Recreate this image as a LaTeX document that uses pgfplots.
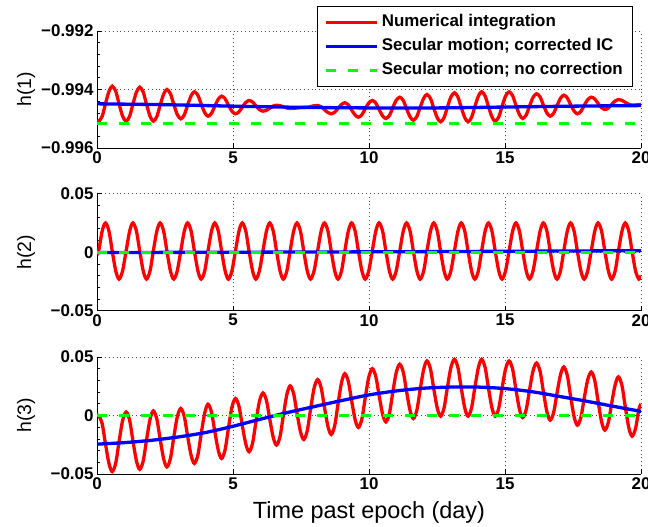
\documentclass[border=0pt]{standalone}
\usepackage{fontspec}
\setmainfont{Liberation Sans}
\usepackage{pgfplots}
\usepackage{pgfplotstable}
\pgfplotsset{compat=1.18}
\definecolor{mred}{RGB}{255,0,0}
\definecolor{mblue}{RGB}{0,0,255}
\definecolor{mgreen}{RGB}{0,255,0}

\pgfplotstableread{
t r1 r2 r3
0.00 -0.995090 -0.002 0.0000
0.06 -0.995094 0.001 0.0000
0.19 -0.994917 0.018 -0.0070
0.31 -0.994491 0.025 -0.0240
0.44 -0.994064 0.018 -0.0410
0.56 -0.993887 0.001 -0.0480
0.69 -0.994062 -0.016 -0.0405
0.81 -0.994486 -0.023 -0.0225
0.94 -0.994909 -0.016 -0.0045
1.07 -0.995084 0.001 0.0030
1.20 -0.994914 0.018 -0.0042
1.32 -0.994503 0.025 -0.0215
1.45 -0.994091 0.018 -0.0388
1.57 -0.993921 0.001 -0.0460
1.70 -0.994091 -0.016 -0.0387
1.82 -0.994503 -0.023 -0.0210
1.95 -0.994914 -0.016 -0.0033
2.07 -0.995084 0.001 0.0040
2.20 -0.994925 0.018 -0.0030
2.32 -0.994542 0.025 -0.0200
2.45 -0.994159 0.018 -0.0370
2.57 -0.994000 0.001 -0.0440
2.70 -0.994147 -0.016 -0.0367
2.82 -0.994501 -0.023 -0.0190
2.95 -0.994855 -0.016 -0.0013
3.08 -0.995002 0.001 0.0060
3.21 -0.994867 0.018 -0.0009
3.33 -0.994541 0.025 -0.0175
3.46 -0.994214 0.018 -0.0341
3.58 -0.994079 0.001 -0.0410
3.71 -0.994201 -0.016 -0.0336
3.83 -0.994496 -0.023 -0.0157
3.96 -0.994791 -0.016 0.0022
4.08 -0.994913 0.001 0.0096
4.21 -0.994813 0.018 0.0028
4.33 -0.994571 0.025 -0.0136
4.46 -0.994329 0.018 -0.0299
4.58 -0.994229 0.001 -0.0367
4.71 -0.994317 -0.016 -0.0292
4.83 -0.994530 -0.023 -0.0111
4.96 -0.994743 -0.016 0.0070
5.09 -0.994831 0.001 0.0145
5.22 -0.994764 0.018 0.0078
5.34 -0.994604 0.025 -0.0083
5.47 -0.994443 0.018 -0.0243
5.59 -0.994376 0.001 -0.0310
5.72 -0.994430 -0.016 -0.0236
5.84 -0.994559 -0.023 -0.0059
5.97 -0.994688 -0.016 0.0119
6.10 -0.994742 0.001 0.0193
6.23 -0.994712 0.018 0.0128
6.35 -0.994640 0.025 -0.0030
6.48 -0.994567 0.018 -0.0188
6.60 -0.994537 0.001 -0.0253
6.73 -0.994554 -0.016 -0.0179
6.85 -0.994594 -0.023 0.0000
6.98 -0.994633 -0.016 0.0179
7.10 -0.994650 0.001 0.0253
7.23 -0.994645 0.018 0.0186
7.35 -0.994633 0.025 0.0024
7.48 -0.994621 0.018 -0.0138
7.60 -0.994616 0.001 -0.0205
7.73 -0.994606 -0.016 -0.0130
7.85 -0.994582 -0.023 0.0051
7.98 -0.994557 -0.016 0.0232
8.11 -0.994547 0.001 0.0307
8.24 -0.994589 0.018 0.0238
8.36 -0.994689 0.025 0.0073
8.49 -0.994789 0.018 -0.0093
8.61 -0.994831 0.001 -0.0162
8.74 -0.994776 -0.016 -0.0086
8.86 -0.994643 -0.023 0.0098
8.99 -0.994510 -0.016 0.0282
9.11 -0.994455 0.001 0.0358
9.24 -0.994527 0.018 0.0291
9.36 -0.994701 0.025 0.0128
9.49 -0.994875 0.018 -0.0035
9.61 -0.994947 0.001 -0.0102
9.74 -0.994863 -0.016 -0.0028
9.86 -0.994662 -0.023 0.0149
9.99 -0.994460 -0.016 0.0326
10.12 -0.994376 0.001 0.0400
10.25 -0.994466 0.018 0.0333
10.37 -0.994684 0.025 0.0173
10.50 -0.994902 0.018 0.0012
10.62 -0.994992 0.001 -0.0055
10.75 -0.994885 -0.016 0.0017
10.87 -0.994628 -0.023 0.0192
11.00 -0.994370 -0.016 0.0366
11.13 -0.994263 0.001 0.0438
11.26 -0.994378 0.018 0.0370
11.38 -0.994657 0.025 0.0206
11.51 -0.994935 0.018 0.0042
11.63 -0.995050 0.001 -0.0026
11.76 -0.994921 -0.016 0.0046
11.88 -0.994611 -0.023 0.0220
12.01 -0.994300 -0.016 0.0394
12.13 -0.994171 0.001 0.0466
12.26 -0.994308 0.018 0.0397
12.38 -0.994638 0.025 0.0230
12.51 -0.994968 0.018 0.0063
12.63 -0.995105 0.001 -0.0006
12.76 -0.994960 -0.016 0.0065
12.88 -0.994609 -0.023 0.0237
13.01 -0.994258 -0.016 0.0409
13.14 -0.994113 0.001 0.0480
13.27 -0.994258 0.018 0.0409
13.39 -0.994609 0.025 0.0237
13.52 -0.994960 0.018 0.0065
13.64 -0.995105 0.001 -0.0006
13.77 -0.994955 -0.016 0.0065
13.89 -0.994592 -0.023 0.0237
14.02 -0.994229 -0.016 0.0409
14.14 -0.994079 0.001 0.0480
14.27 -0.994226 0.018 0.0409
14.39 -0.994582 0.025 0.0237
14.52 -0.994937 0.018 0.0065
14.64 -0.995084 0.001 -0.0006
14.77 -0.994937 -0.016 0.0063
14.89 -0.994582 -0.023 0.0230
15.02 -0.994226 -0.016 0.0397
15.15 -0.994079 0.001 0.0466
15.28 -0.994213 0.018 0.0395
15.40 -0.994536 0.025 0.0225
15.53 -0.994858 0.018 0.0054
15.65 -0.994992 0.001 -0.0017
15.78 -0.994868 -0.016 0.0051
15.90 -0.994570 -0.023 0.0216
16.03 -0.994271 -0.016 0.0381
16.16 -0.994147 0.001 0.0449
16.29 -0.994259 0.018 0.0377
16.41 -0.994530 0.025 0.0205
16.54 -0.994801 0.018 0.0032
16.66 -0.994913 0.001 -0.0040
16.79 -0.994808 -0.016 0.0027
16.91 -0.994554 -0.023 0.0188
17.04 -0.994300 -0.016 0.0348
17.16 -0.994195 0.001 0.0415
17.29 -0.994288 0.018 0.0342
17.41 -0.994513 0.025 0.0166
17.54 -0.994738 0.018 -0.0010
17.66 -0.994831 0.001 -0.0083
17.79 -0.994748 -0.016 -0.0016
17.91 -0.994547 -0.023 0.0145
18.04 -0.994346 -0.016 0.0305
18.17 -0.994263 0.001 0.0372
18.30 -0.994325 0.018 0.0299
18.42 -0.994474 0.025 0.0124
18.55 -0.994622 0.018 -0.0052
18.67 -0.994684 0.001 -0.0125
18.80 -0.994634 -0.016 -0.0058
18.92 -0.994513 -0.023 0.0103
19.05 -0.994392 -0.016 0.0263
19.17 -0.994342 0.001 0.0330
19.30 -0.994371 0.018 0.0256
19.42 -0.994440 0.025 0.0077
19.55 -0.994508 0.018 -0.0103
19.67 -0.994537 0.001 -0.0177
19.80 -0.994530 -0.016 -0.0110
19.92 -0.994518 -0.023 0.0052
20.00 -0.994513 -0.020 0.0100
}\redtab

\pgfplotstableread{
t b3
0 -0.0245
1 -0.0232
2 -0.0212
3 -0.0183
4 -0.0145
5 -0.0092
6 -0.0032
7 0.0025
8 0.0077
9 0.0128
10 0.0176
11 0.0210
12 0.0233
13 0.0243
14 0.0243
15 0.0230
16 0.0203
17 0.0163
18 0.0122
19 0.0078
20 0.0035
}\bluethree

\pgfplotsset{
  panel/.style={
    scale only axis, width=544bp, height=117bp,
    xmin=0, xmax=20,
    axis x line*=bottom, axis y line*=left,
    axis line style={black, line width=0.8bp},
    xtick={0,5,10,15,20}, xticklabels={0,5,10,15,20},
    scaled ticks=false,
    grid=major,
    grid style={black!70, dash pattern=on 0.9bp off 3bp, line width=0.7bp},
    tick align=inside, major tick length=5bp, minor tick length=3bp,
    minor y tick num=4, minor x tick num=0,
    tick style={black, line width=0.7bp},
    ticklabel style={font=\bfseries\fontsize{17}{20}\selectfont},
    every axis y label/.style={at={(axis description cs:-0.1305,0.5)}, rotate=90, anchor=center, font=\fontsize{19.5}{23}\selectfont},
    every axis x label/.style={at={(axis description cs:0.5,-0.325)}, anchor=center, font=\fontsize{23.5}{27}\selectfont},
  },
  redline/.style={mred, line width=3.3bp, smooth},
  blueline/.style={mblue, line width=3.3bp, smooth},
  greenline/.style={mgreen, line width=3bp, dash pattern=on 10bp off 12bp},
}

\begin{document}
\begin{tikzpicture}[x=1bp,y=1bp]
\useasboundingbox (0,0) rectangle (648,527);

% top panel h(1)
\begin{axis}[panel, at={(97bp,379bp)}, anchor=south west,
  ymin=-0.996, ymax=-0.992,
  ytick={-0.996,-0.994,-0.992}, yticklabels={−0.996,−0.994,−0.992},
  ylabel={h(1)},
  legend style={at={(0.4044,1.2137)}, anchor=north west, draw=black, line width=1bp, fill=white,
    font=\bfseries\fontsize{17}{20}\selectfont, inner xsep=7bp, inner ysep=5bp, row sep=2bp,
    nodes={inner sep=3bp, text height=12.5bp, text depth=3.5bp}},
  legend cell align=left,
  legend image code/.code={\draw[#1] (0bp,0bp) -- (51bp,0bp);},
]
\addplot[redline] table[x=t, y=r1] {\redtab};
\addplot[blueline] coordinates {(0,-0.99449) (2.5,-0.99452) (5,-0.99457) (7.5,-0.99461) (10,-0.99463) (12.5,-0.99463) (15,-0.99460) (17.5,-0.99457) (20,-0.99455)};
\addplot[greenline] coordinates {(0,-0.99517) (20,-0.99517)};
\legend{Numerical integration, Secular motion; corrected IC, Secular motion; no correction}
\end{axis}

% middle panel h(2)
\begin{axis}[panel, at={(97bp,216.3bp)}, anchor=south west,
  ymin=-0.05, ymax=0.05,
  ytick={-0.05,0,0.05}, yticklabels={−0.05,0,0.05},
  ylabel={h(2)},
]
\addplot[redline] table[x=t, y=r2] {\redtab};
\addplot[blueline] coordinates {(0,-0.0003) (10,0.0003) (20,0.0013)};
\addplot[greenline] coordinates {(0,0) (20,0)};
\end{axis}

% bottom panel h(3)
\begin{axis}[panel, at={(97bp,53bp)}, anchor=south west,
  ymin=-0.05, ymax=0.05,
  ytick={-0.05,0,0.05}, yticklabels={−0.05,0,0.05},
  ylabel={h(3)},
  xlabel={Time past epoch (day)},
]
\addplot[redline] table[x=t, y=r3] {\redtab};
\addplot[blueline] table[x=t, y=b3] {\bluethree};
\addplot[greenline] coordinates {(0,0) (20,0)};
\end{axis}
\end{tikzpicture}
\end{document}
